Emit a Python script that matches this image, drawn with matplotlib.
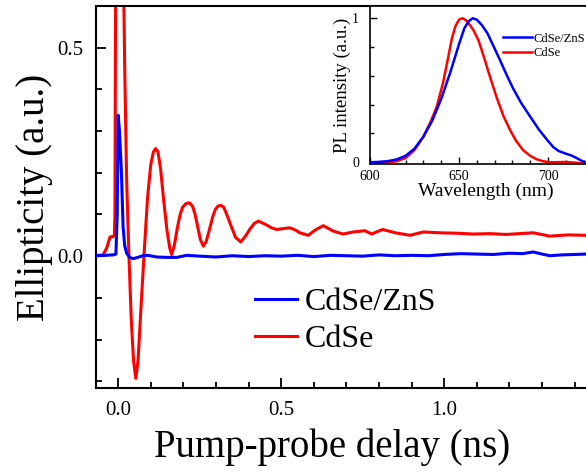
import numpy as np
import matplotlib
matplotlib.use("Agg")
import matplotlib.pyplot as plt
from matplotlib.ticker import MultipleLocator, FixedLocator, FormatStrFormatter

plt.rcParams["font.family"] = ["Liberation Serif", "DejaVu Serif"]

# ── main panel: ellipticity vs pump-probe delay ──
delay_shell = [-0.069, -0.040, -0.015, -0.007, -0.003, 0.000, 0.004, 0.010, 0.015,
               0.020, 0.026, 0.035, 0.046, 0.060, 0.075, 0.091, 0.118, 0.150, 0.180,
               0.210, 0.250, 0.300, 0.350, 0.400, 0.450, 0.500, 0.550, 0.600, 0.650,
               0.700, 0.750, 0.800, 0.850, 0.900, 0.950, 1.000, 1.050, 1.100, 1.150,
               1.200, 1.240, 1.273, 1.300, 1.324, 1.360, 1.400, 1.435, 1.500]
ellip_shell = [0.001, 0.002, 0.003, 0.005, 0.100, 0.338, 0.300, 0.200, 0.070,
               0.025, 0.007, -0.003, -0.006, -0.003, 0.001, 0.002, -0.002, -0.003, -0.003,
               0.002, 0.000, -0.002, 0.001, -0.001, 0.001, 0.000, 0.002, -0.001, 0.002,
               0.001, 0.000, 0.003, 0.001, 0.002, 0.001, 0.004, 0.006, 0.005, 0.004,
               0.007, 0.006, 0.010, 0.005, 0.001, 0.003, 0.004, 0.005, 0.004]

delay_core = [-0.069, -0.050, -0.045, -0.035, -0.025, -0.016, -0.012, -0.010, -0.008,
              -0.004, 0.003, 0.010, 0.016, 0.020, 0.026, 0.033, 0.040, 0.047, 0.054,
              0.061, 0.068, 0.079, 0.090, 0.100, 0.108, 0.115, 0.122, 0.130, 0.140,
              0.150, 0.158, 0.164, 0.172, 0.182, 0.190, 0.198, 0.208, 0.218, 0.228,
              0.236, 0.244, 0.252, 0.261, 0.270, 0.282, 0.290, 0.298, 0.306, 0.315,
              0.324, 0.333, 0.345, 0.360, 0.376, 0.392, 0.405, 0.418, 0.430, 0.450,
              0.470, 0.486, 0.505, 0.527, 0.545, 0.557, 0.583, 0.605, 0.629, 0.660,
              0.690, 0.720, 0.757, 0.777, 0.811, 0.850, 0.895, 0.936, 0.987, 1.040,
              1.089, 1.140, 1.190, 1.230, 1.273, 1.324, 1.380, 1.435, 1.500]
ellip_core = [0.002, 0.002, 0.005, 0.020, 0.046, 0.047, 0.048, 0.100, 0.600,
              1.100, 1.300, 1.100, 0.700, 0.450, 0.180, 0.000, -0.150, -0.250, -0.293,
              -0.250, -0.150, 0.000, 0.140, 0.220, 0.250, 0.258, 0.250, 0.210, 0.130,
              0.060, 0.020, 0.004, 0.025, 0.070, 0.100, 0.118, 0.126, 0.128, 0.120,
              0.100, 0.070, 0.040, 0.024, 0.035, 0.070, 0.095, 0.112, 0.120, 0.122,
              0.117, 0.100, 0.075, 0.045, 0.034, 0.050, 0.066, 0.079, 0.084, 0.077,
              0.068, 0.064, 0.066, 0.068, 0.062, 0.056, 0.050, 0.063, 0.073, 0.060,
              0.053, 0.058, 0.061, 0.053, 0.064, 0.056, 0.050, 0.058, 0.056, 0.055,
              0.053, 0.054, 0.052, 0.054, 0.056, 0.048, 0.051, 0.050, 0.050]

# ── inset: normalised PL spectra ──
wl_shell = [600, 605, 610, 615, 620, 625, 630, 635, 640, 645, 650, 653, 655.5,
            657.7, 660, 663, 666, 670, 673, 677, 680.5, 685, 690, 695, 700, 703,
            706, 710, 713, 716, 719, 722, 730]
pl_shell = [0.000, 0.003, 0.008, 0.020, 0.045, 0.095, 0.178, 0.290, 0.440, 0.620, 0.820,
            0.930, 0.980, 1.000, 0.990, 0.950, 0.895, 0.790, 0.710, 0.600, 0.510,
            0.410, 0.317, 0.225, 0.148, 0.105, 0.078, 0.060, 0.048, 0.030, 0.010,
            -0.006, -0.010]

wl_core = [600, 605, 610, 615, 620, 625, 630, 634, 637.5, 641, 644, 646, 648, 650,
           652, 654, 656, 658, 661, 664, 667, 671, 675, 678.7, 682, 686, 690, 693.6,
           697, 701, 705, 710, 715, 721, 730]
pl_core = [-0.005, -0.003, 0.000, 0.007, 0.030, 0.085, 0.178, 0.280, 0.386, 0.550,
           0.733, 0.860, 0.945, 0.990, 1.000, 0.985, 0.955, 0.920, 0.845, 0.730, 0.610,
           0.456, 0.320, 0.224, 0.150, 0.085, 0.045, 0.021, 0.008, 0.000, 0.001, 0.002,
           -0.002, -0.010, -0.012]

BLUE = "#0000ff"
RED = "#ff0000"

fig = plt.figure(figsize=(5.86, 4.72), dpi=100)
ax = fig.add_axes([0.1633, 0.1773, 0.873, 0.81])

ax.plot(delay_shell, ellip_shell, color=BLUE, lw=2.2, label="CdSe/ZnS", zorder=3)
ax.plot(delay_core, ellip_core, color=RED, lw=2.2, label="CdSe", zorder=2)

ax.set_xlim(-0.069, 1.5)
ax.set_ylim(-0.317, 0.6)
ax.xaxis.set_major_locator(FixedLocator([0.0, 0.5, 1.0]))
ax.xaxis.set_minor_locator(MultipleLocator(0.1))
ax.yaxis.set_major_locator(MultipleLocator(0.5))
ax.yaxis.set_minor_locator(MultipleLocator(0.1))
ax.xaxis.set_major_formatter(FormatStrFormatter("%.1f"))
ax.yaxis.set_major_formatter(FormatStrFormatter("%.1f"))
ax.tick_params(which="both", direction="in", width=1.3, labelsize=15, top=False, right=False)
ax.tick_params(which="major", length=7, pad=9)
ax.tick_params(which="minor", length=4)
for s in ax.spines.values():
    s.set_linewidth(1.5)
ax.spines["right"].set_visible(False)

ax.set_xlabel("Pump-probe delay (ns)", fontsize=28)
ax.xaxis.set_label_coords(0.462, -0.105)
ax.set_ylabel("Ellipticity (a.u.)", fontsize=28)
ax.yaxis.set_label_coords(-0.083, 0.5)

ax.legend(loc="upper left", bbox_to_anchor=(0.2856, 0.297), frameon=False,
          fontsize=23, handlelength=1.33, handletextpad=0.25, labelspacing=0.25,
          borderaxespad=0)

# inset
ins = fig.add_axes([0.6314, 0.6525, 0.3949, 0.3348])
ins.plot(wl_shell, pl_shell, color=BLUE, lw=1.8, label="CdSe/ZnS", zorder=3)
ins.plot(wl_core, pl_core, color=RED, lw=1.8, label="CdSe", zorder=2)
ins.set_xlim(600, 730)
ins.set_ylim(-0.012, 1.085)
ins.xaxis.set_major_locator(FixedLocator([600, 650, 700]))
ins.xaxis.set_minor_locator(MultipleLocator(10))
ins.set_yticks([0, 1])
ins.yaxis.set_minor_locator(MultipleLocator(0.2))
ins.tick_params(which="both", direction="in", width=1.0, labelsize=10, top=False, right=False)
ins.tick_params(which="major", length=5, pad=4)
ins.tick_params(which="minor", length=3)
ins.tick_params(axis="y", which="major", pad=8)
for s in ins.spines.values():
    s.set_linewidth(1.2)
ins.spines["right"].set_visible(False)
ins.set_xlabel("Wavelength (nm)", fontsize=14, labelpad=0)
ins.set_ylabel("PL intensity (a.u.)", fontsize=13.5, labelpad=1)
ins.legend(loc="upper left", bbox_to_anchor=(0.553, 0.863), frameon=False, fontsize=9,
           handlelength=2.32, handletextpad=0.15, labelspacing=0.2, borderaxespad=0)

fig.savefig("out.png", dpi=100, facecolor="white")
